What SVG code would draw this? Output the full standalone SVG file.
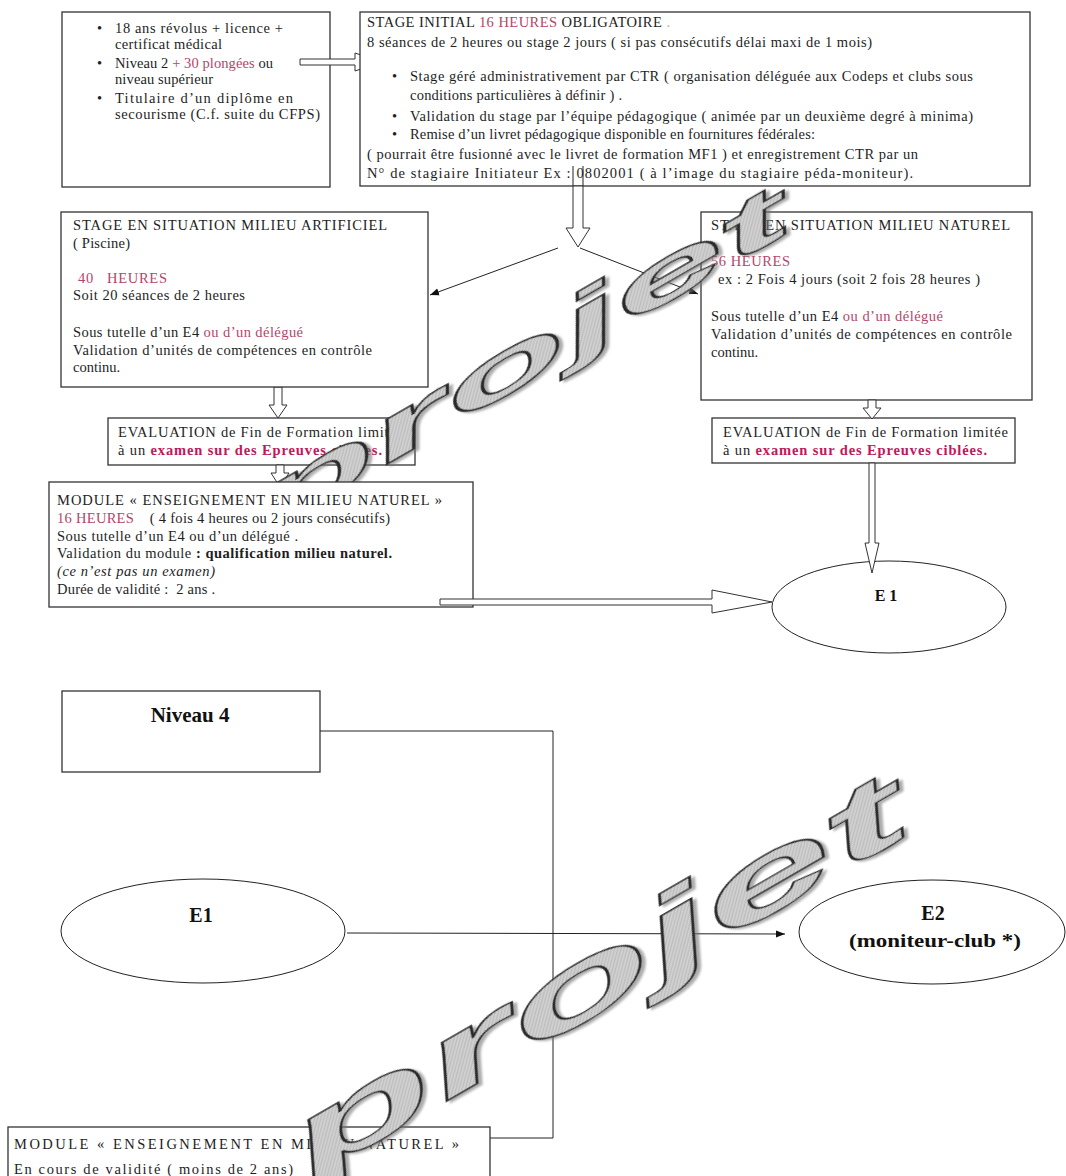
<svg xmlns="http://www.w3.org/2000/svg" width="1066" height="1176" viewBox="0 0 1066 1176">
<style>
.t{font-family:"Liberation Serif","Times New Roman",serif;font-size:14.5px;fill:#1e1e1e}
.r{fill:#b5456a}
.rb{fill:#c0185a;font-weight:bold}
.b{font-weight:bold}
.i{font-style:italic}
.box{fill:#fff;stroke:#333;stroke-width:1.3}
.blk{fill:#fff;stroke:#333;stroke-width:1}
.ln{stroke:#222;stroke-width:1;fill:none}
.el{fill:#fff;stroke:#222;stroke-width:1}
.lbl{font-family:"Liberation Serif","Times New Roman",serif;font-weight:bold;fill:#111}
.wm{font-family:"Liberation Sans",Arial,sans-serif;font-weight:bold;font-style:italic;fill:url(#hatch);stroke:#2a2a2a;stroke-width:1.3;filter:url(#sh)}
</style>
<defs>
<marker id="ah" viewBox="0 0 10 10" refX="10" refY="5" markerWidth="9" markerHeight="9" orient="auto" markerUnits="userSpaceOnUse"><path d="M0,1 L10,5 L0,9 z" fill="#111"/></marker>
<pattern id="hatch" width="3" height="3" patternUnits="userSpaceOnUse" patternTransform="rotate(45)"><rect width="3" height="3" fill="#d2d2d2"/><line x1="0" y1="0" x2="0" y2="3" stroke="#9a9a9a" stroke-width="1"/></pattern>
<filter id="sh" x="-10%" y="-10%" width="130%" height="130%"><feDropShadow dx="3" dy="3" stdDeviation="1" flood-color="#777" flood-opacity="0.6"/></filter>
</defs>
<rect width="1066" height="1176" fill="#fff"/>

<g id="box-prerequis">
<rect class="box" x="62" y="12" width="268" height="175"/>
<text class="t" x="97" y="33">•</text><text class="t" x="115" y="33" textLength="168" lengthAdjust="spacing">18 ans révolus + licence +</text>
<text class="t" x="115" y="49" textLength="107" lengthAdjust="spacing">certificat médical</text>
<text class="t" x="97" y="68">•</text><text class="t" x="115" y="68" textLength="158" lengthAdjust="spacing">Niveau 2 <tspan class="r">+ 30 plongées</tspan> ou</text>
<text class="t" x="115" y="84" textLength="98" lengthAdjust="spacing">niveau supérieur</text>
<text class="t" x="97" y="103">•</text><text class="t" x="115" y="103" textLength="178" lengthAdjust="spacing">Titulaire d’un diplôme en</text>
<text class="t" x="115" y="119" textLength="205" lengthAdjust="spacing">secourisme (C.f. suite du CFPS)</text>
</g>

<g id="box-milieu-naturel">
<rect class="box" x="701" y="212" width="331" height="188"/>
<text class="t" x="711" y="230" textLength="299" lengthAdjust="spacing">STAGE EN SITUATION  MILIEU NATUREL</text>
<text class="t r" x="711" y="266" textLength="79" lengthAdjust="spacing">56 HEURES</text>
<text class="t" x="718" y="284" textLength="262" lengthAdjust="spacing">ex :  2 Fois 4 jours (soit  2 fois 28 heures )</text>
<text class="t" x="711" y="321" textLength="232" lengthAdjust="spacing">Sous tutelle d’un E4 <tspan class="r">ou d’un délégué</tspan></text>
<text class="t" x="711" y="339" textLength="301" lengthAdjust="spacing">Validation d’unités de compétences en contrôle</text>
<text class="t" x="711" y="357" textLength="47" lengthAdjust="spacing">continu.</text>
</g>

<g id="box-evaluation-1">
<rect class="box" x="108" y="418" width="307" height="47"/>
<text class="t" x="118" y="437" textLength="285" lengthAdjust="spacing">EVALUATION  de Fin de Formation limitée</text>
<text class="t" x="118" y="455" textLength="264" lengthAdjust="spacing">à un <tspan class="rb">examen sur des Epreuves ciblées.</tspan></text>
</g>

<g id="box-evaluation-2">
<rect class="box" x="712" y="418" width="303" height="45"/>
<text class="t" x="723" y="437" textLength="285" lengthAdjust="spacing">EVALUATION  de Fin de Formation limitée</text>
<text class="t" x="723" y="455" textLength="264" lengthAdjust="spacing">à un <tspan class="rb">examen sur des Epreuves ciblées.</tspan></text>
</g>

<g id="node-e1-top">
<ellipse class="el" cx="889" cy="607" rx="117" ry="46"/>
<text class="lbl" x="886" y="601" font-size="16" text-anchor="middle">E 1</text>
</g>

<g id="box-niveau4">
<rect class="box" x="62" y="691" width="258" height="81"/>
<text class="lbl" x="190" y="722" font-size="21" text-anchor="middle">Niveau 4</text>
</g>

<g id="node-e1-bottom">
<ellipse class="el" cx="203" cy="931" rx="142" ry="52"/>
<text class="lbl" x="201" y="922" font-size="20" text-anchor="middle">E1</text>
</g>

<g id="node-e2">
<ellipse class="el" cx="932" cy="932" rx="133" ry="52"/>
<text class="lbl" x="933" y="920" font-size="20" text-anchor="middle">E2</text>
<text class="lbl" x="849" y="947" font-size="19" textLength="172" lengthAdjust="spacingAndGlyphs">(moniteur-club *)</text>
</g>

<g id="connectors">
<path class="blk" d="M300,59 L355,59 L355,53 L382,62 L355,71 L355,65 L300,65 z"/>
<line class="ln" x1="558" y1="248" x2="430" y2="295" marker-end="url(#ah)"/>
<line class="ln" x1="580" y1="248" x2="698" y2="294" marker-end="url(#ah)"/>
<path class="blk" d="M274,387 L282,387 L282,405 L287,405 L278,418 L269,405 L274,405 z"/>
<path class="blk" d="M868,400 L876,400 L876,408 L881,408 L872,419 L863,408 L868,408 z"/>
<path class="blk" d="M276,465 L284,465 L284,473 L289,473 L280,487 L271,473 L276,473 z"/>
<path class="blk" d="M869,463 L875,463 L875,543 L879,543 L872,573 L865,543 L869,543 z"/>
<path class="ln" d="M320,731 L553,731 L553,1138 L490,1138"/>
<line class="ln" x1="347" y1="933" x2="785" y2="934" marker-end="url(#ah)"/>
</g>

<g id="watermark-top">
<text class="wm" transform="translate(268,533) rotate(-30)" font-size="75" textLength="610" lengthAdjust="spacingAndGlyphs">projet</text>
</g>

<g id="box-stage-initial">
<rect class="box" x="360" y="12" width="670" height="174"/>
<text class="t" x="367" y="27" textLength="303" lengthAdjust="spacing">STAGE INITIAL <tspan class="r">16 HEURES</tspan> OBLIGATOIRE <tspan fill="#aaa">.</tspan></text>
<text class="t" x="367" y="47" textLength="505" lengthAdjust="spacing">8 séances de 2 heures  ou stage 2 jours  ( si pas consécutifs délai maxi de 1 mois)</text>
<text class="t" x="392" y="81">•</text><text class="t" x="410" y="81" textLength="563" lengthAdjust="spacing">Stage géré administrativement par CTR  ( organisation déléguée aux Codeps  et clubs sous</text>
<text class="t" x="410" y="100" textLength="212" lengthAdjust="spacing">conditions particulières à définir ) .</text>
<text class="t" x="392" y="121">•</text><text class="t" x="410" y="121" textLength="563" lengthAdjust="spacing">Validation du stage par l’équipe pédagogique ( animée par un deuxième degré à minima)</text>
<text class="t" x="392" y="139">•</text><text class="t" x="410" y="139" textLength="405" lengthAdjust="spacing">Remise d’un livret pédagogique disponible en fournitures fédérales:</text>
<text class="t" x="367" y="159" textLength="551" lengthAdjust="spacing">( pourrait être fusionné avec le livret de formation MF1 ) et enregistrement CTR par un</text>
<text class="t" x="367" y="178" textLength="546" lengthAdjust="spacing">N° de stagiaire Initiateur    Ex : 0802001  ( à l’image du stagiaire péda-moniteur).</text>
</g>

<g id="connector-stage-split">
<path class="ln" d="M573,166 L573,186 M583,166 L583,186"/>
<path class="blk" d="M573,186 L583,186 L583,228 L590,228 L578,247 L566,228 L573,228 z"/>
</g>

<g id="box-milieu-artificiel">
<rect class="box" x="61" y="212" width="367" height="175"/>
<text class="t" x="73" y="230" textLength="314" lengthAdjust="spacing">STAGE EN SITUATION   MILIEU ARTIFICIEL</text>
<text class="t" x="73" y="248" textLength="57" lengthAdjust="spacing">( Piscine)</text>
<text class="t r" x="78" y="283" textLength="89" lengthAdjust="spacing" xml:space="preserve">40   HEURES</text>
<text class="t" x="73" y="300" textLength="172" lengthAdjust="spacing">Soit 20 séances de 2 heures</text>
<text class="t" x="73" y="337" textLength="230" lengthAdjust="spacing">Sous tutelle d’un E4 <tspan class="r">ou d’un délégué</tspan></text>
<text class="t" x="73" y="355" textLength="299" lengthAdjust="spacing">Validation d’unités de compétences en contrôle</text>
<text class="t" x="73" y="372" textLength="47" lengthAdjust="spacing">continu.</text>
</g>

<g id="box-module">
<rect class="box" x="49" y="482" width="424" height="125"/>
<text class="t" x="57" y="505" textLength="385" lengthAdjust="spacing">MODULE  « ENSEIGNEMENT EN MILIEU NATUREL »</text>
<text class="t" x="57" y="523" textLength="333" lengthAdjust="spacing" xml:space="preserve"><tspan class="r">16 HEURES</tspan>    ( 4 fois 4 heures ou 2 jours consécutifs)</text>
<text class="t" x="57" y="541" textLength="241" lengthAdjust="spacing">Sous tutelle d’un E4 ou d’un délégué .</text>
<text class="t" x="57" y="558" textLength="335" lengthAdjust="spacing">Validation du module <tspan class="b">: qualification milieu naturel.</tspan></text>
<text class="t i" x="57" y="576" textLength="158" lengthAdjust="spacing">(ce n’est pas un examen)</text>
<text class="t" x="57" y="594" textLength="158" lengthAdjust="spacing" xml:space="preserve">Durée de validité :  2 ans .</text>
</g>

<g id="connector-module-e1">
<path class="blk" d="M440,599 L712,599 L712,590 L772,602 L712,613 L712,605 L440,605 z"/>
</g>

<g id="box-module-validite">
<rect class="box" x="8" y="1127" width="482" height="60"/>
<text class="t" x="14" y="1149" textLength="445" lengthAdjust="spacing">MODULE  « ENSEIGNEMENT EN MILIEU NATUREL »</text>
<text class="t" x="14" y="1174" textLength="279" lengthAdjust="spacing">En cours de validité ( moins de 2 ans)</text>
</g>

<g id="watermark-bottom">
<text class="wm" transform="translate(310,1180) rotate(-30)" font-size="100" textLength="700" lengthAdjust="spacingAndGlyphs">projet</text>
</g>
</svg>
